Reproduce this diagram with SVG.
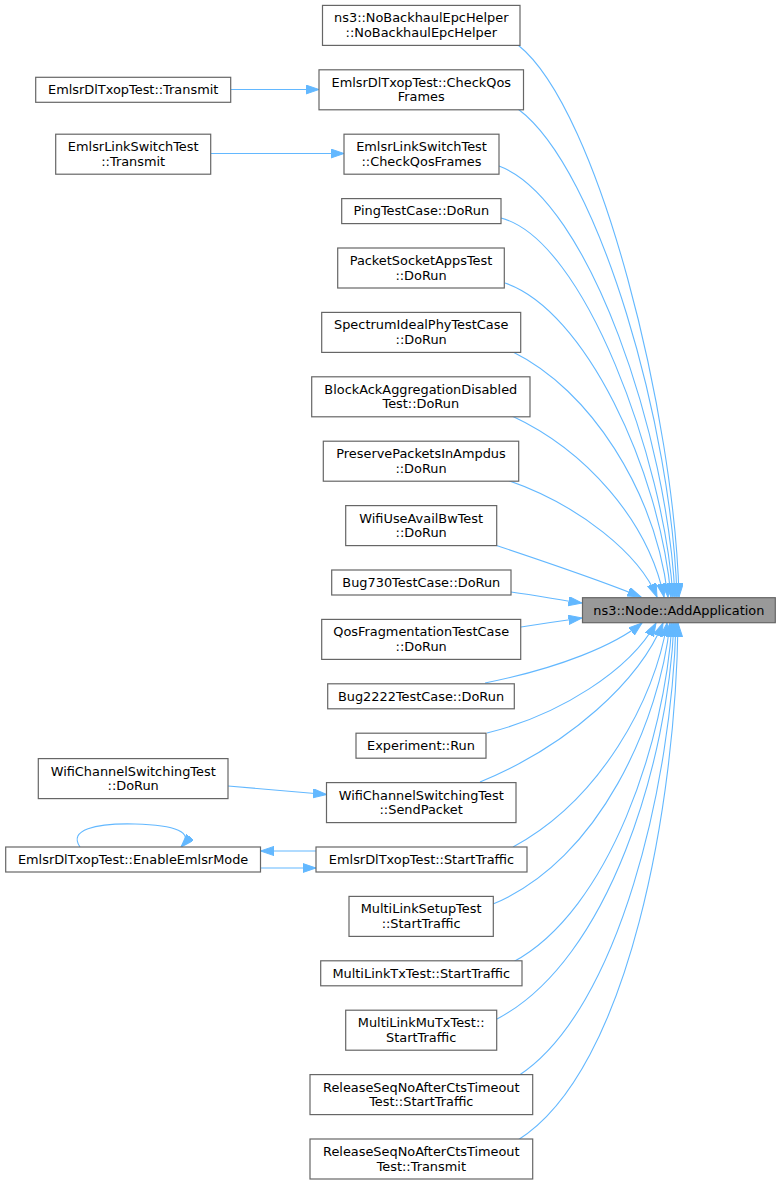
<svg xmlns="http://www.w3.org/2000/svg" width="781" height="1185" viewBox="0 0 781 1185">
<style>
.n rect{fill:#ffffff;stroke:#666666;stroke-width:1.2}
.t rect{fill:#999999;stroke:#666666;stroke-width:1.2}
text{font-family:"DejaVu Sans","Liberation Sans",sans-serif;font-size:12.9px;fill:#000000;text-anchor:middle}
.e path{fill:none;stroke:#63b8ff;stroke-width:1.1;marker-end:url(#ah)}
</style>
<defs>
<marker id="ah" markerUnits="userSpaceOnUse" markerWidth="15" markerHeight="10" refX="13.5" refY="4.6" orient="auto">
<path d="M0,0 L13.5,4.6 L0,9.2 z" fill="#63b8ff" stroke="#63b8ff" stroke-width="1"/>
</marker>
</defs>
<rect width="781" height="1185" fill="#ffffff"/>
<g id="connectors" class="e">
<path d="M518,45 C600,110 675,420 679,597"/>
<path d="M518,109 C600,170 672,430 677,597"/>
<path d="M499,166 C590,200 668,440 675,597"/>
<path d="M501,218 C585,240 664,460 673,597"/>
<path d="M505,283 C585,310 660,470 671,597"/>
<path d="M513,352 C590,390 655,490 668,597"/>
<path d="M512,416 C585,450 648,520 664,597"/>
<path d="M507,480 C580,505 640,555 657,597"/>
<path d="M492,544 C540,560 600,580 641,597"/>
<path d="M511,592 C540,596 560,600 582,603"/>
<path d="M521,627 C540,624 560,621 582,618"/>
<path d="M485,683 C560,668 615,645 642,623"/>
<path d="M487,733 C560,715 630,670 656,623"/>
<path d="M480,782 C570,745 640,680 663,623"/>
<path d="M513,847 C600,800 655,700 667,623"/>
<path d="M493,904 C600,860 660,720 670,623"/>
<path d="M513,962 C610,910 665,740 672,623"/>
<path d="M497,1019 C610,960 668,760 674,623"/>
<path d="M518,1076 C620,1010 672,780 676,623"/>
<path d="M518,1140 C630,1070 676,800 678,623"/>
<path d="M231,89.5 L319,89.5"/>
<path d="M211,153.5 L344,153.5"/>
<path d="M228,786 L326.5,794.5"/>
<path d="M316,851 L260.5,851"/>
<path d="M260.5,868 L316,868"/>
<path d="M80,847 C68,830 95,823 135,824 C175,825 195,832 181,847"/>
</g>
<g id="n0" class="t"><rect x="582.5" y="597.7" width="192.8" height="25"/><text x="678.9" y="614.5">ns3::Node::AddApplication</text></g>
<g id="n1" class="n"><rect x="322.5" y="5.4" width="197.5" height="40"/><text x="421.3" y="22.4">ns3::NoBackhaulEpcHelper</text><text x="421.3" y="36.9">::NoBackhaulEpcHelper</text></g>
<g id="n2" class="n"><rect x="319" y="69.8" width="204.5" height="40"/><text x="421.3" y="86.8">EmlsrDlTxopTest::CheckQos</text><text x="421.3" y="101.3">Frames</text></g>
<g id="n3" class="n"><rect x="344" y="134.2" width="155" height="40"/><text x="421.5" y="151.2">EmlsrLinkSwitchTest</text><text x="421.5" y="165.7">::CheckQosFrames</text></g>
<g id="n4" class="n"><rect x="341.7" y="198.6" width="159.3" height="25"/><text x="421.3" y="215.4">PingTestCase::DoRun</text></g>
<g id="n5" class="n"><rect x="337.7" y="248" width="166.6" height="40"/><text x="421" y="265">PacketSocketAppsTest</text><text x="421" y="279.5">::DoRun</text></g>
<g id="n6" class="n"><rect x="321.7" y="312.4" width="199" height="40"/><text x="421.2" y="329.4">SpectrumIdealPhyTestCase</text><text x="421.2" y="343.9">::DoRun</text></g>
<g id="n7" class="n"><rect x="311.7" y="376.8" width="218.3" height="40"/><text x="420.8" y="393.8">BlockAckAggregationDisabled</text><text x="420.8" y="408.3">Test::DoRun</text></g>
<g id="n8" class="n"><rect x="323.3" y="441.2" width="195.4" height="40"/><text x="421" y="458.2">PreservePacketsInAmpdus</text><text x="421" y="472.7">::DoRun</text></g>
<g id="n9" class="n"><rect x="345.7" y="505.6" width="151" height="40"/><text x="421.2" y="522.6">WifiUseAvailBwTest</text><text x="421.2" y="537.1">::DoRun</text></g>
<g id="n10" class="n"><rect x="331.7" y="570" width="179.3" height="25"/><text x="421.3" y="586.8">Bug730TestCase::DoRun</text></g>
<g id="n11" class="n"><rect x="321.7" y="619.4" width="199" height="40"/><text x="421.2" y="636.4">QosFragmentationTestCase</text><text x="421.2" y="650.9">::DoRun</text></g>
<g id="n12" class="n"><rect x="327.7" y="683.8" width="186.6" height="25"/><text x="421" y="700.6">Bug2222TestCase::DoRun</text></g>
<g id="n13" class="n"><rect x="356" y="733.2" width="130" height="25"/><text x="421" y="750">Experiment::Run</text></g>
<g id="n14" class="n"><rect x="326.5" y="782.6" width="189.5" height="40"/><text x="421.2" y="799.6">WifiChannelSwitchingTest</text><text x="421.2" y="814.1">::SendPacket</text></g>
<g id="n15" class="n"><rect x="316" y="847" width="211" height="25"/><text x="421.5" y="863.8">EmlsrDlTxopTest::StartTraffic</text></g>
<g id="n16" class="n"><rect x="349" y="896.4" width="144.3" height="40"/><text x="421.1" y="913.4">MultiLinkSetupTest</text><text x="421.1" y="927.9">::StartTraffic</text></g>
<g id="n17" class="n"><rect x="320.7" y="960.8" width="201.3" height="25"/><text x="421.3" y="977.6">MultiLinkTxTest::StartTraffic</text></g>
<g id="n18" class="n"><rect x="345.7" y="1010.2" width="151" height="40"/><text x="421.2" y="1027.2">MultiLinkMuTxTest::</text><text x="421.2" y="1041.7">StartTraffic</text></g>
<g id="n19" class="n"><rect x="310" y="1074.6" width="222.7" height="40"/><text x="421.3" y="1091.6">ReleaseSeqNoAfterCtsTimeout</text><text x="421.3" y="1106.1">Test::StartTraffic</text></g>
<g id="n20" class="n"><rect x="310" y="1139" width="222.7" height="40"/><text x="421.3" y="1156">ReleaseSeqNoAfterCtsTimeout</text><text x="421.3" y="1170.5">Test::Transmit</text></g>
<g id="n21" class="n"><rect x="35.7" y="77.3" width="195" height="25"/><text x="133.2" y="94.1">EmlsrDlTxopTest::Transmit</text></g>
<g id="n22" class="n"><rect x="55.7" y="134.2" width="155" height="40"/><text x="133.2" y="151.2">EmlsrLinkSwitchTest</text><text x="133.2" y="165.7">::Transmit</text></g>
<g id="n23" class="n"><rect x="38.3" y="758.6" width="189.7" height="40"/><text x="133.2" y="775.6">WifiChannelSwitchingTest</text><text x="133.2" y="790.1">::DoRun</text></g>
<g id="n24" class="n"><rect x="5.7" y="847" width="254.8" height="25"/><text x="133.1" y="863.8">EmlsrDlTxopTest::EnableEmlsrMode</text></g>
</svg>
